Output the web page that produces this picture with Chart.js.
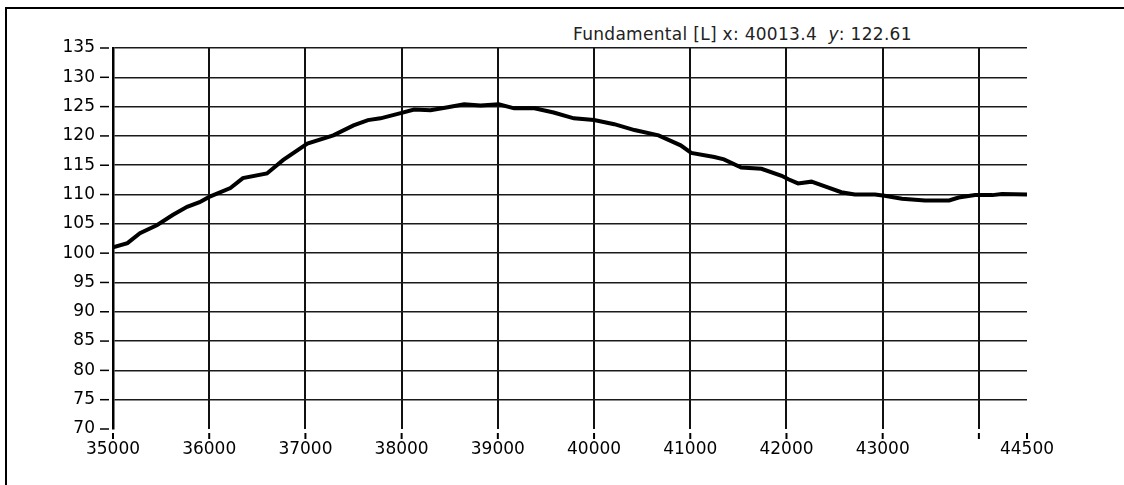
<!DOCTYPE html>
<html>
<head>
<meta charset="utf-8">
<script src="https://cdn.jsdelivr.net/npm/chart.js@4/dist/chart.umd.min.js"></script>
<style>
html, body { margin:0; padding:0; background:#fff; overflow:hidden; }
#wrap { position:relative; width:1124px; height:485px; overflow:hidden; }
#frameLeft { position:absolute; left:5px; top:7px; width:2px; height:478px; background:#000; }
#frameTop { position:absolute; left:5px; top:7px; width:1119px; height:2px; background:#000; }
#readout { position:absolute; left:573px; top:24px; font-family:"DejaVu Sans", sans-serif; font-size:17px; color:#222; white-space:pre; letter-spacing:0.3px; }
canvas { position:absolute; left:0; top:0; }
</style>
</head>
<body>
<div id="wrap">
<div id="frameLeft"></div>
<div id="frameTop"></div>
<div id="readout">Fundamental [L] x: 40013.4  <i>y</i>: 122.61</div>
<canvas id="chart" width="1124" height="485"></canvas>
</div>
<script>
// Frequency (x) and level (y)
const freqs = [35000,35150,35280,35460,35620,35770,35900,36000,36220,36350,36600,36770,37020,37290,37500,37650,37780,37990,38130,38300,38480,38650,38820,39010,39170,39380,39580,39790,40000,40210,40420,40670,40900,41010,41250,41350,41530,41740,41950,42020,42120,42260,42400,42570,42710,42920,43020,43200,43440,43690,43790,43960,44140,44240,44500];
const levels = [101.0,101.7,103.4,104.8,106.5,107.9,108.7,109.6,111.1,112.8,113.6,115.9,118.7,120.1,121.8,122.7,123.0,123.9,124.5,124.4,124.9,125.4,125.2,125.4,124.7,124.7,124.0,123.0,122.7,122.0,121.0,120.1,118.4,117.1,116.4,116.0,114.6,114.4,113.2,112.6,111.9,112.2,111.4,110.4,110.0,110.0,109.8,109.3,109.0,109.0,109.5,109.9,109.9,110.1,110.0];

// Axis ticks
const xTicks = [35000,36000,37000,38000,39000,40000,41000,42000,43000,44000,44500];
const xLabels = ["35000","36000","37000","38000","39000","40000","41000","42000","43000","","44500"];
const yMin = 70, yMax = 135, yStep = 5;

const points = freqs.map((f, i) => ({ x: f, y: levels[i] }));

// small tick marks drawn apart from the plot edge
const tickMarks = {
  id: "tickMarks",
  afterDraw(chart) {
    const ctx = chart.ctx;
    const area = chart.chartArea;
    const xs = chart.scales.x;
    const ys = chart.scales.y;
    ctx.save();
    ctx.strokeStyle = "#000";
    ctx.lineWidth = 1.5;
    ys.ticks.forEach((t) => {
      const py = ys.getPixelForValue(t.value);
      ctx.beginPath();
      ctx.moveTo(area.left - 13, py);
      ctx.lineTo(area.left - 4, py);
      ctx.stroke();
    });
    ctx.lineWidth = 2;
    xs.ticks.forEach((t) => {
      const px = xs.getPixelForValue(t.value);
      ctx.beginPath();
      ctx.moveTo(px, area.bottom + 4);
      ctx.lineTo(px, area.bottom + 10);
      ctx.stroke();
    });
    ctx.restore();
  }
};

new Chart(document.getElementById("chart").getContext("2d"), {
  type: "line",
  data: {
    datasets: [{
      data: points,
      borderColor: "#000",
      borderWidth: 4,
      pointRadius: 0,
      tension: 0,
      fill: false
    }]
  },
  options: {
    responsive: false,
    devicePixelRatio: 1,
    animation: false,
    layout: { padding: { left: 0, top: 48, right: 97, bottom: 0 } },
    plugins: { legend: { display: false }, tooltip: { enabled: false } },
    scales: {
      x: {
        type: "linear",
        min: 35000,
        max: 44500,
        afterBuildTicks: (scale) => { scale.ticks = xTicks.map((v) => ({ value: v })); },
        afterFit: (scale) => { scale.height = 56; },
        border: { display: false },
        grid: {
          drawTicks: false,
          lineWidth: 2,
          color: (c) => (c.tick && c.tick.value === 44500 ? "rgba(0,0,0,0)" : "#111")
        },
        ticks: {
          padding: 10,
          maxRotation: 0,
          autoSkip: false,
          color: "#000",
          font: { family: "DejaVu Sans", size: 17 },
          callback: (v) => xLabels[xTicks.indexOf(v)]
        }
      },
      y: {
        min: yMin,
        max: yMax,
        afterFit: (scale) => { scale.width = 113; },
        border: { display: true, color: "#000", width: 2.5 },
        grid: {
          drawTicks: false,
          lineWidth: 1.5,
          color: (c) => (c.tick && c.tick.value === yMin ? "rgba(0,0,0,0)" : "#1a1a1a")
        },
        ticks: {
          stepSize: yStep,
          padding: 18,
          color: "#000",
          font: { family: "DejaVu Sans", size: 17 }
        }
      }
    }
  },
  plugins: [tickMarks]
});
</script>
</body>
</html>
